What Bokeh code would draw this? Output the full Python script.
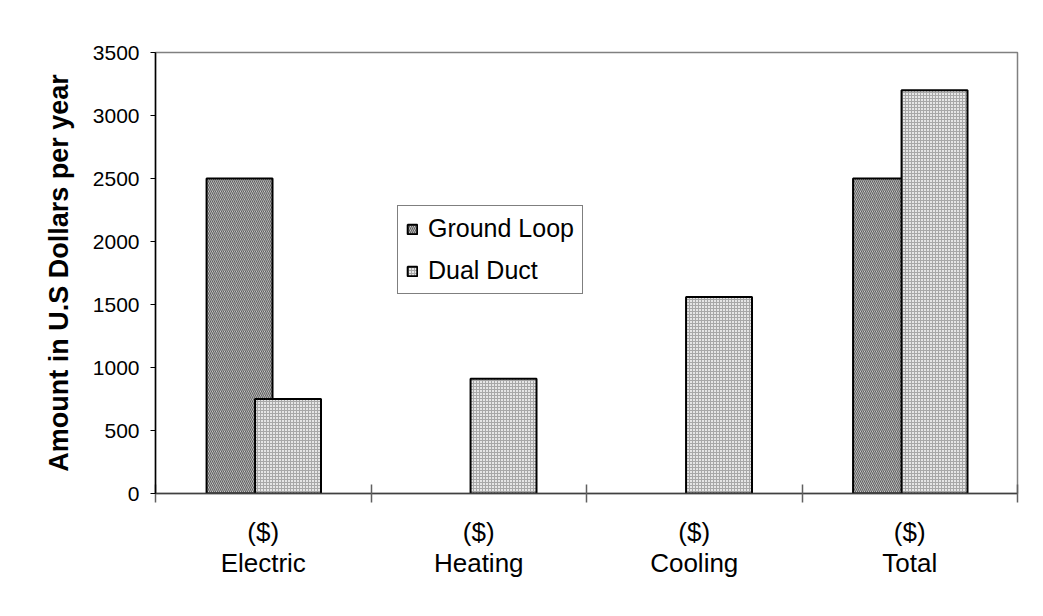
from bokeh.plotting import figure
from bokeh.models import Range1d, FixedTicker, Legend, LegendItem, ColumnDataSource, Label
from bokeh.embed import file_html
from bokeh.resources import INLINE

categories = ["($)\nElectric", "($)\nHeating", "($)\nCooling", "($)\nTotal"]
ground_loop = [2500, 0, 0, 2500]
dual_duct = [750, 910, 1560, 3200]
y_ticks = [0, 500, 1000, 1500, 2000, 2500, 3000, 3500]

FONT = "Liberation Sans"
idx = list(range(len(categories)))
centers = [i + 0.5 for i in idx]

W, H = 1030, 600
FL, FT, FR, FB = 155, 52, 1017, 493   # frame edges on the canvas
p = figure(width=W, height=H, output_backend="svg", toolbar_location=None,
           x_range=Range1d(0, len(categories)), y_range=Range1d(0, 3500),
           min_border_left=FL, min_border_right=W - FR, min_border_top=FT,
           min_border_bottom=H - FB)
p.xgrid.visible = False
p.ygrid.visible = False
p.outline_line_color = "#808080"
p.outline_line_width = 1.5
p.background_fill_color = "white"
p.border_fill_color = "white"

# outer chart border (only its left / top edges are in view)
p.add_layout(Label(x=7 - FL, y=FB - 5, x_units="screen", y_units="screen",
                   text=".", text_alpha=0, text_font_size="10px", anchor="top_left",
                   padding=700, border_line_color="#808080", border_line_width=2,
                   background_fill_color=None, level="underlay"))

def nz(vals):
    keep = [i for i, v in enumerate(vals) if v > 0]
    return keep, [vals[i] for i in keep]

kg, vg = nz(ground_loop)
kd, vd = nz(dual_duct)
src_g = ColumnDataSource(dict(x=[centers[i] - 0.11 for i in kg], top=vg))
src_d = ColumnDataSource(dict(x=[centers[i] + 0.115 for i in kd], top=vd))

rg = p.vbar(x="x", top="top", width=0.306, source=src_g,
            fill_color="#dadada", line_color="black", line_width=2,
            hatch_pattern="\\", hatch_color="#606060", hatch_scale=4, hatch_weight=1.2)
rd = p.vbar(x="x", top="top", width=0.306, source=src_d,
            fill_color="#e6e6e6", line_color="black", line_width=2,
            hatch_pattern="+", hatch_color="#a8a8a8", hatch_scale=3, hatch_weight=1)

ya = p.yaxis[0]
ya.ticker = FixedTicker(ticks=y_ticks)
ya.axis_line_color = "black"
ya.axis_line_width = 1.5
ya.major_tick_line_color = "black"
ya.major_tick_out = 5
ya.major_tick_in = 0
ya.minor_tick_line_color = None
ya.major_label_text_font = FONT
ya.major_label_text_font_size = "21px"
ya.major_label_text_color = "black"
ya.major_label_standoff = 11
ya.axis_label = "Amount in U.S Dollars per year"
ya.axis_label_text_font = FONT
ya.axis_label_text_font_style = "bold"
ya.axis_label_text_font_size = "27px"
ya.axis_label_text_color = "black"
ya.axis_label_standoff = 16

xa = p.xaxis[0]
xa.ticker = FixedTicker(ticks=centers, minor_ticks=[0, 1, 2, 3, 4])
xa.major_label_overrides = {c: lab for c, lab in zip(centers, categories)}
xa.axis_line_color = "#404040"
xa.axis_line_width = 1.5
xa.major_tick_line_color = None
xa.major_tick_in = 0
xa.major_tick_out = 0
xa.minor_tick_line_color = "#606060"
xa.minor_tick_line_width = 1.5
xa.minor_tick_in = 9
xa.minor_tick_out = 9
xa.major_label_text_font = FONT
xa.major_label_text_font_size = "26px"
xa.major_label_text_line_height = 1.05
xa.major_label_text_color = "black"
xa.major_label_standoff = 14

legend = Legend(items=[LegendItem(label="Ground Loop", renderers=[rg]),
                       LegendItem(label="Dual Duct", renderers=[rd])],
                location=(242, 199), orientation="vertical",
                label_text_font=FONT, label_text_font_size="25px",
                label_text_color="black", glyph_width=12, glyph_height=12,
                label_height=29, spacing=13, padding=8, label_standoff=10,
                border_line_color="black", border_line_width=1,
                background_fill_color="white", background_fill_alpha=1)
p.add_layout(legend, "center")

open("out.html", "w").write(file_html(p, INLINE))
